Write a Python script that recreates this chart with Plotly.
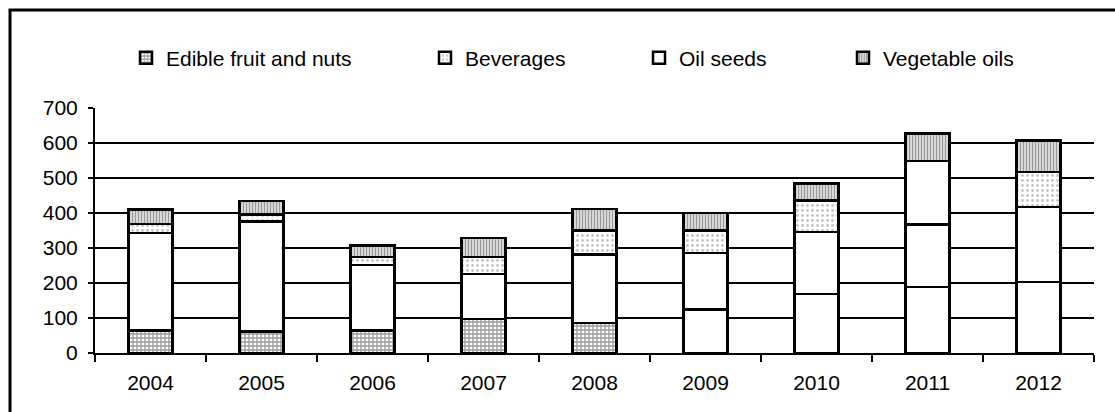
import plotly.graph_objects as go

years = ["2004", "2005", "2006", "2007", "2008", "2009", "2010", "2011", "2012"]
edible_fruit_nuts = [65, 61, 65, 97, 86, 125, 169, 188, 203]
oil_seeds = [278, 315, 187, 129, 195, 161, 177, 179, 214]
beverages = [26, 20, 22, 48, 69, 64, 90, 181, 100]
vegetable_oils = [41, 39, 33, 55, 62, 50, 48, 79, 90]

FONT = "Liberation Sans, Arial, sans-serif"
L, R, T, B = 95, 21, 108, 59
W, H = 1115, 412
PW = W - L - R
PH = H - T - B


def px_x(px):
    return (px - L) / PW


def px_y(py):
    return 1 + (T - py) / PH


line = dict(color="black", width=2.5)

fig = go.Figure()
fig.add_trace(go.Bar(
    x=years, y=edible_fruit_nuts, name="Edible fruit and nuts", legend="legend",
    marker=dict(color="white", line=line,
                pattern=dict(shape=["+"] * 5 + [""] * 4, fgcolor="#333333",
                             bgcolor="white", size=4, solidity=0.55)),
))
fig.add_trace(go.Bar(
    x=years, y=oil_seeds, name="Oil seeds", legend="legend3",
    marker=dict(color="white", line=line),
))
fig.add_trace(go.Bar(
    x=years, y=beverages, name="Beverages", legend="legend2",
    marker=dict(color="white", line=line,
                pattern=dict(shape=["."] * 7 + [""] + ["."], fgcolor="#888888",
                             bgcolor="white", size=5, solidity=0.25)),
))
fig.add_trace(go.Bar(
    x=years, y=vegetable_oils, name="Vegetable oils", legend="legend4",
    marker=dict(color="white", line=line,
                pattern=dict(shape="|", fgcolor="#333333",
                             bgcolor="white", size=3, solidity=0.6)),
))

leg_common = dict(orientation="h", yanchor="middle", xanchor="left",
                  font=dict(family=FONT, size=21, color="black"),
                  bgcolor="rgba(0,0,0,0)", borderwidth=0, itemwidth=30)
text_starts = {"legend": 167, "legend2": 466, "legend3": 680, "legend4": 884}
legs = {}
for k, tx in text_starts.items():
    legs[k] = dict(leg_common, x=px_x(tx - 41), y=px_y(58))

fig.update_layout(
    width=W, height=H,
    margin=dict(l=L, r=R, t=T, b=B, pad=0),
    barmode="stack", bargap=0.6,
    plot_bgcolor="white", paper_bgcolor="white",
    font=dict(family=FONT, size=21, color="black"),
    showlegend=True,
    **legs,
    xaxis=dict(type="category", showline=True, linecolor="black", linewidth=2,
               ticks="outside", tickson="boundaries", ticklen=7, tickwidth=2,
               tickcolor="black", showgrid=False, ticklabelstandoff=10,
               tickfont=dict(family=FONT, size=21, color="black")),
    yaxis=dict(range=[0, 700], dtick=100, showline=True, linecolor="black",
               linewidth=2, ticks="outside", ticklen=5, tickwidth=2,
               tickcolor="black", showgrid=True, gridcolor="black", gridwidth=2,
               zeroline=False, ticklabelstandoff=6,
               tickfont=dict(family=FONT, size=21, color="black")),
    shapes=[dict(type="rect", xref="paper", yref="paper",
                 x0=px_x(10), x1=px_x(1200), y0=px_y(600), y1=px_y(10),
                 line=dict(color="black", width=3), fillcolor="rgba(0,0,0,0)",
                 layer="above")],
)

fig.write_html("out.html", config={"displayModeBar": False},
               post_script="document.body.style.margin='0';document.body.style.overflow='hidden';")
